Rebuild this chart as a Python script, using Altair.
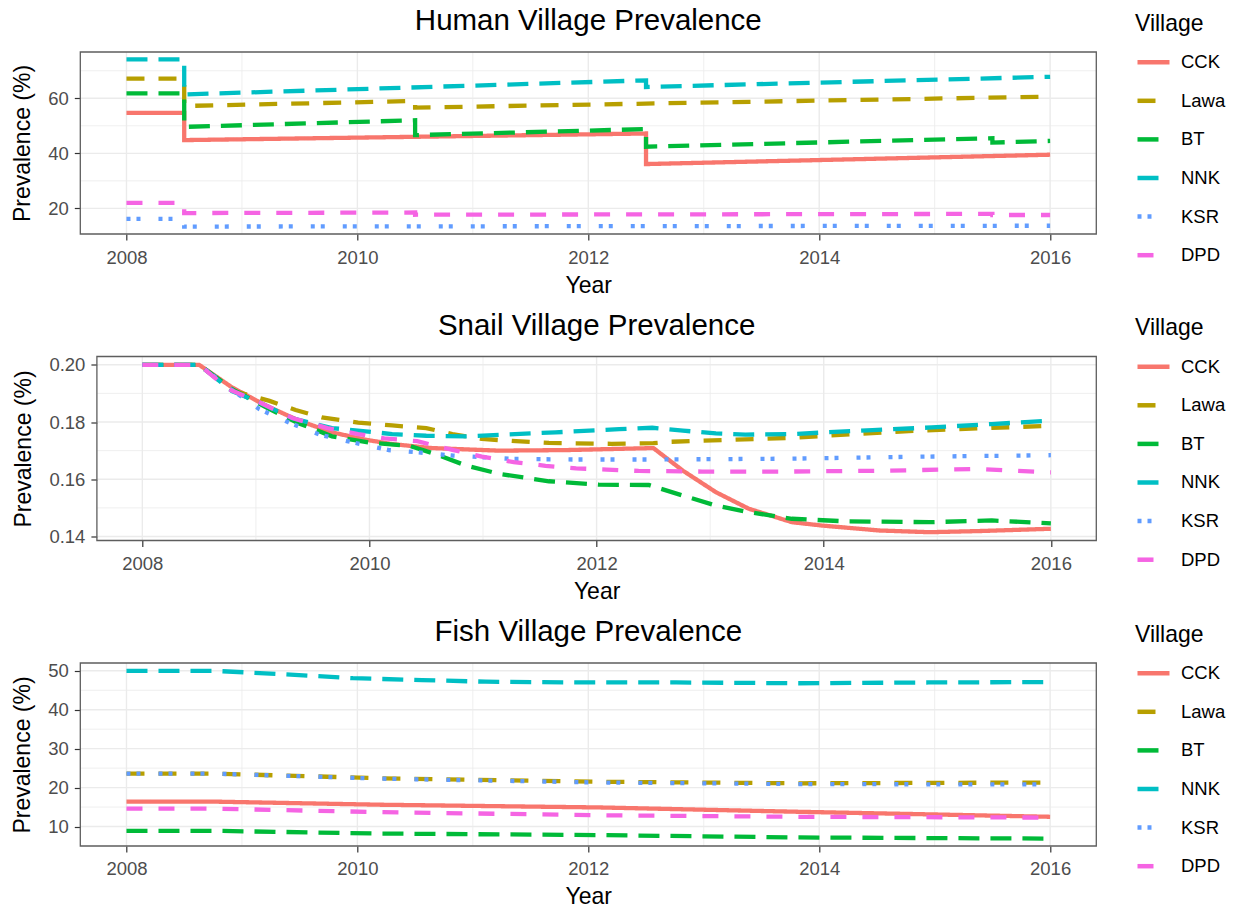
import altair as alt
import pandas as pd

FONT = "Liberation Sans"

VILLAGES = ["CCK", "Lawa", "BT", "NNK", "KSR", "DPD"]
COLORS = ["#F8766D", "#B79F00", "#00BA38", "#00BFC4", "#619CFF", "#F564E3"]
DASHES = [[1, 0], [18, 14], [21, 11], [21, 11], [4, 6, 4, 18], [16, 16]]

YEAR_TICKS = [2008, 2010, 2012, 2014, 2016]
YEAR_MINOR = [2009, 2011, 2013, 2015]
YEAR_DOMAIN = [2007.6, 2016.4]

# ---- Human village prevalence (%), stepping down at treatment rounds ----
HUMAN_YEAR = {
    "CCK": [2008, 2008.5, 2008.5, 2012.5, 2012.5, 2016],
    "Lawa": [2008, 2008.5, 2008.5, 2010.5, 2010.5, 2016],
    "BT": [2008, 2008.5, 2008.5, 2010.5, 2010.5, 2012.5, 2012.5, 2015.5, 2015.5, 2016],
    "NNK": [2008, 2008.5, 2008.5, 2012.5, 2012.5, 2016],
    "KSR": [2008, 2008.5, 2008.5, 2016],
    "DPD": [2008, 2008.5, 2008.5, 2010.5, 2010.5, 2015.5, 2015.5, 2016],
}
HUMAN_PCT = {
    "CCK": [54.7, 54.7, 44.8, 47.2, 36.1, 39.5],
    "Lawa": [67.1, 67.1, 57.2, 59.0, 56.6, 60.6],
    "BT": [61.8, 61.8, 49.6, 52.0, 46.6, 48.8, 42.4, 45.5, 43.9, 44.5],
    "NNK": [74.1, 74.1, 61.4, 66.5, 64.1, 67.8],
    "KSR": [16.2, 16.2, 13.4, 13.7],
    "DPD": [22.0, 22.0, 18.3, 18.5, 17.7, 18.0, 17.6, 17.6],
}

# ---- Snail village prevalence ----
SNAIL_YEAR = {
    "CCK": [2008, 2008.5, 2008.79, 2009.09, 2009.38, 2009.67, 2009.97, 2010.2, 2010.55,
            2011.14, 2011.73, 2012.5, 2012.76, 2013.05, 2013.34, 2013.72, 2013.99,
            2014.49, 2014.93, 2015.37, 2016],
    "Lawa": [2008, 2008.5, 2008.79, 2009.12, 2009.35, 2009.58, 2009.9, 2010.2, 2010.5,
             2010.73, 2010.99, 2011.29, 2011.58, 2012.13, 2012.5, 2012.66, 2013.19,
             2013.72, 2014.02, 2014.84, 2015.37, 2016],
    "BT": [2008, 2008.5, 2008.79, 2009.09, 2009.38, 2009.67, 2010.0, 2010.35, 2010.58,
           2010.85, 2011.14, 2011.58, 2012.02, 2012.46, 2012.76, 2013.05, 2013.34,
           2013.72, 2014.19, 2014.93, 2015.48, 2016],
    "NNK": [2008, 2008.5, 2008.79, 2009.06, 2009.32, 2009.67, 2010.2, 2010.5, 2010.85,
            2011.14, 2011.64, 2012.2, 2012.49, 2012.76, 2013.05, 2013.31, 2013.72,
            2014.43, 2014.95, 2015.48, 2016],
    "KSR": [2008, 2008.5, 2008.79, 2009.03, 2009.32, 2009.57, 2009.85, 2010.17, 2010.43,
            2010.73, 2011.26, 2011.82, 2012.37, 2012.93, 2013.72, 2014.84, 2016],
    "DPD": [2008, 2008.5, 2008.76, 2009.03, 2009.32, 2009.63, 2009.9, 2010.13, 2010.42,
            2010.73, 2010.99, 2011.27, 2011.55, 2011.82, 2012.09, 2012.37, 2012.93,
            2013.72, 2014.54, 2015.37, 2015.66, 2016],
}
SNAIL_PCT = {
    "CCK": [0.200, 0.200, 0.1921, 0.1857, 0.1805, 0.1764, 0.1738, 0.1723, 0.1709,
            0.1700, 0.1702, 0.1709, 0.1630, 0.1555, 0.1497, 0.1450, 0.1438,
            0.1421, 0.1415, 0.1419, 0.1427],
    "Lawa": [0.200, 0.200, 0.1910, 0.1874, 0.1842, 0.1816, 0.1798, 0.1788, 0.1779,
             0.1758, 0.1741, 0.1733, 0.1727, 0.1724, 0.1726, 0.1731, 0.1738,
             0.1745, 0.1752, 0.1770, 0.1778, 0.1787],
    "BT": [0.200, 0.200, 0.1915, 0.1851, 0.1795, 0.1750, 0.1728, 0.1717, 0.1688,
           0.1648, 0.1619, 0.1593, 0.1581, 0.1580, 0.1543, 0.1508, 0.1485,
           0.1462, 0.1453, 0.1450, 0.1456, 0.1446],
    "NNK": [0.200, 0.200, 0.1908, 0.1863, 0.1813, 0.1779, 0.1758, 0.1752, 0.1750,
            0.1755, 0.1764, 0.1775, 0.1780, 0.1770, 0.1760, 0.1756, 0.1758,
            0.1772, 0.1781, 0.1793, 0.1805],
    "KSR": [0.200, 0.200, 0.1912, 0.1845, 0.1793, 0.1755, 0.1729, 0.1702, 0.1694,
            0.1683, 0.1671, 0.1669, 0.1669, 0.1670, 0.1672, 0.1679, 0.1684],
    "DPD": [0.200, 0.200, 0.1915, 0.1869, 0.1814, 0.1779, 0.1758, 0.1743, 0.1733,
            0.1703, 0.1679, 0.1660, 0.1647, 0.1638, 0.1634, 0.1629, 0.1627,
            0.1627, 0.1630, 0.1636, 0.1630, 0.1624],
}

# ---- Fish village prevalence (%) ----
FISH_YEAR = {
    "CCK": [2008, 2008.75, 2010.2, 2012.1, 2013.8, 2015.0, 2016],
    "Lawa": [2008, 2008.75, 2010.2, 2012.1, 2013.8, 2016],
    "BT": [2008, 2008.75, 2010.2, 2012.1, 2013.8, 2016],
    "NNK": [2008, 2008.75, 2009.38, 2009.96, 2010.56, 2011.11, 2011.94, 2012.76,
            2013.82, 2014.95, 2016],
    "KSR": [2008, 2008.75, 2010.2, 2012.1, 2013.8, 2016],
    "DPD": [2008, 2008.75, 2010.2, 2012.1, 2013.8, 2016],
}
FISH_PCT = {
    "CCK": [16.4, 16.4, 15.6, 14.9, 13.8, 13.1, 12.5],
    "Lawa": [23.6, 23.6, 22.4, 21.5, 21.1, 21.3],
    "BT": [8.9, 8.9, 8.2, 7.8, 7.2, 6.9],
    "NNK": [50.0, 50.0, 49.1, 48.1, 47.6, 47.2, 47.0, 47.0, 46.8, 47.0, 47.1],
    "KSR": [23.6, 23.6, 22.3, 21.3, 20.9, 20.8],
    "DPD": [14.6, 14.6, 13.7, 12.9, 12.5, 12.3],
}

BORDER = "#5e5e5e"
GRID = "#EBEBEB"


def long_table(years, values):
    rows = []
    for v in VILLAGES:
        for i, (x, y) in enumerate(zip(years[v], values[v])):
            rows.append({"village": v, "pattern": v, "year": x, "value": y, "idx": i})
    return pd.DataFrame(rows)


def panel(title, years, values, y_domain, y_major, y_minor, y_fmt, w, h, inset=0.0):
    # `inset` narrows the panel on its left so wider tick labels fit beside it
    xs = alt.Scale(domain=YEAR_DOMAIN, nice=False, zero=False, range=[inset, w])
    ys = alt.Scale(domain=y_domain, nice=False, zero=False)
    x_axis = alt.Axis(values=YEAR_TICKS, format="d", title="Year")
    y_axis = alt.Axis(values=y_major, format=y_fmt, title="Prevalence (%)", offset=-inset)

    def vrules(vals, width):
        return alt.Chart(pd.DataFrame({"year": vals})).mark_rule(
            color=GRID, strokeWidth=width
        ).encode(x=alt.X("year:Q", scale=xs, axis=x_axis))

    def hrules(vals, width):
        return alt.Chart(pd.DataFrame({"value": vals})).mark_rule(
            color=GRID, strokeWidth=width
        ).encode(
            y=alt.Y("value:Q", scale=ys, axis=y_axis),
            x=alt.value(inset), x2=alt.value(w),
        )

    lines = alt.Chart(long_table(years, values)).mark_line(strokeWidth=4.3).encode(
        x=alt.X("year:Q", scale=xs, axis=x_axis),
        y=alt.Y("value:Q", scale=ys, axis=y_axis),
        color=alt.Color(
            "village:N", sort=VILLAGES,
            scale=alt.Scale(domain=VILLAGES, range=COLORS),
            legend=alt.Legend(title="Village", orient="none",
                              legendX=w + 38.7, legendY=-39.3),
        ),
        strokeDash=alt.StrokeDash(
            "pattern:N", sort=VILLAGES,
            scale=alt.Scale(domain=VILLAGES, range=DASHES), legend=None,
        ),
        order=alt.Order("idx:Q"),
    )

    border = alt.Chart(pd.DataFrame({"box": [title]})).mark_rect(
        filled=False, stroke=BORDER, strokeWidth=1.3
    ).encode(x=alt.value(inset), x2=alt.value(w), y=alt.value(0), y2=alt.value(h))

    heading = alt.Chart(pd.DataFrame({"label": [title]})).mark_text(
        font=FONT, fontSize=29.5, color="#000000", baseline="alphabetic", align="center"
    ).encode(text="label:N", x=alt.value((inset + w) / 2), y=alt.value(-21.7))

    return alt.layer(
        vrules(YEAR_MINOR, 0.8), hrules(y_minor, 0.8),
        vrules(YEAR_TICKS, 1.4), hrules(y_major, 1.4),
        lines, border, heading,
    ).properties(width=w, height=h)


human = panel("Human Village Prevalence", HUMAN_YEAR, HUMAN_PCT,
              [10.7, 76.8], [20, 40, 60], [30, 50, 70], "d", 1016, 182)
snail = panel("Snail Village Prevalence", SNAIL_YEAR, SNAIL_PCT,
              [0.1386, 0.2029], [0.14, 0.16, 0.18, 0.20], [0.15, 0.17, 0.19], ".2f",
              1016, 184, inset=16.6)
fish = panel("Fish Village Prevalence", FISH_YEAR, FISH_PCT,
             [5.0, 52.0], [10, 20, 30, 40, 50], [15, 25, 35, 45], "d", 1016, 183)

chart = (
    alt.vconcat(human, snail, fish, spacing=13.5)
    .resolve_scale(color="independent", strokeDash="independent")
    .resolve_legend(color="independent")
    .properties(padding={"left": 11.3, "top": 6, "right": 5, "bottom": 0})
    .configure_view(strokeWidth=0)
    .configure_axis(
        grid=False, domain=False,
        labelFont=FONT, labelFontSize=18.5, labelColor="#4D4D4D",
        titleFont=FONT, titleFontSize=23, titleFontWeight="normal", titleColor="#000000",
        tickColor="#333333", tickSize=6, tickWidth=1.2,
    )
    .configure_axisX(labelPadding=8, titlePadding=7.5)
    .configure_axisY(labelPadding=6, titlePadding=13)
    .configure_legend(
        titleFont=FONT, titleFontSize=23, titleFontWeight="normal", titleColor="#000000",
        labelFont=FONT, labelFontSize=18.5, labelColor="#000000",
        symbolType="stroke", symbolSize=1024, symbolStrokeWidth=4.5,
        rowPadding=10.6, labelOffset=9, titlePadding=8, padding=0,
    )
)

chart.save("out.html", embed_options={"renderer": "svg", "actions": False})
